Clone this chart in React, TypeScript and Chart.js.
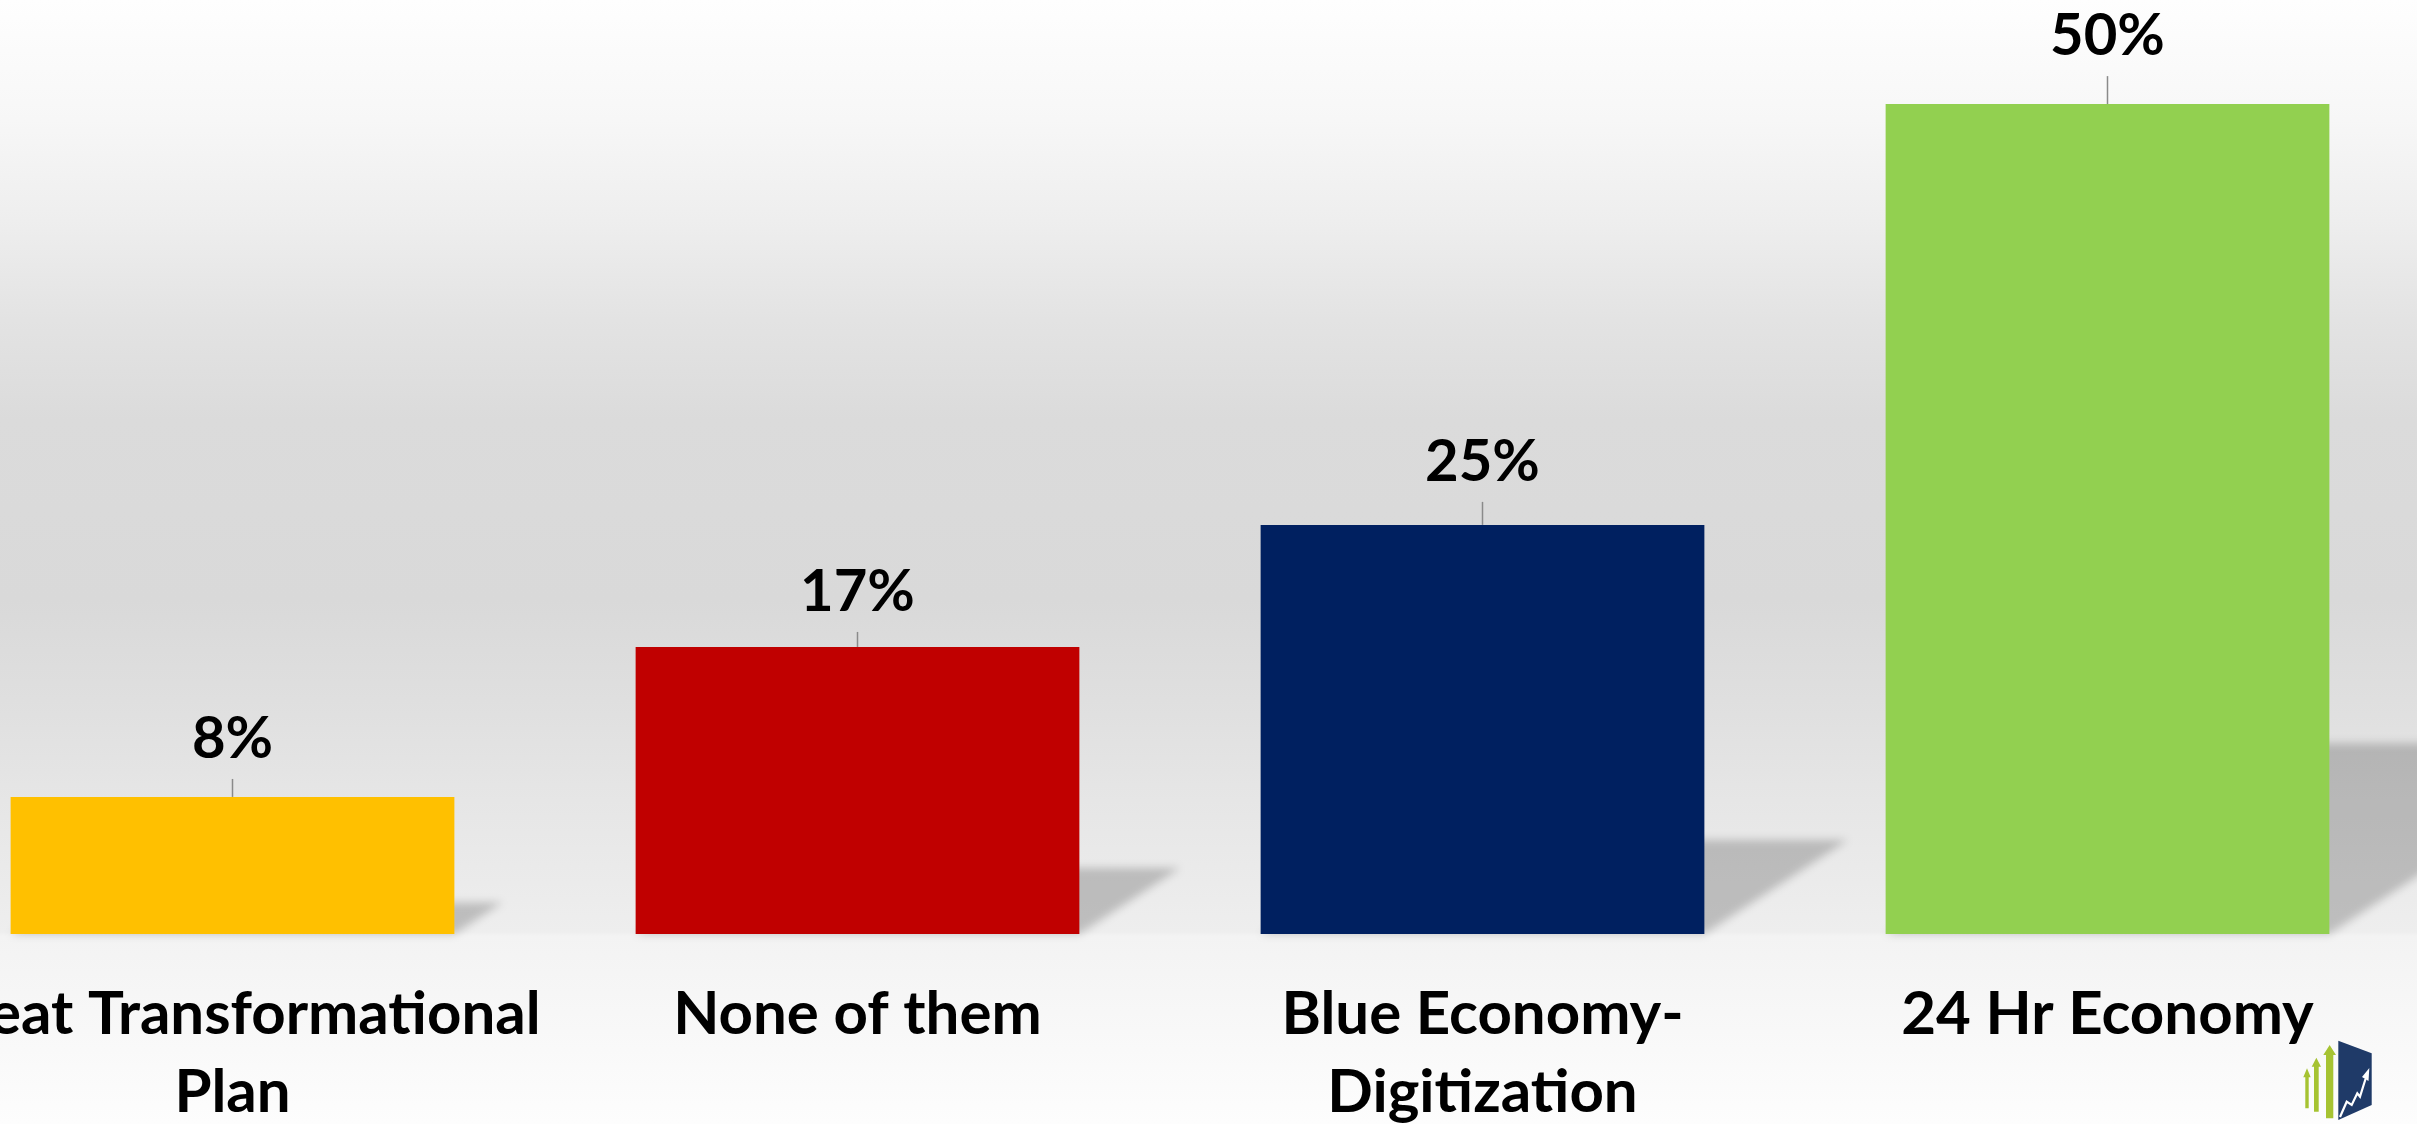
import React, { useEffect, useRef } from "react";
import { Chart, registerables } from "chart.js";

Chart.register(...registerables);

// ---- data ----
const categories: (string | string[])[] = [
  ["Great Transformational", "Plan"],
  "None of them",
  ["Blue Economy-", "Digitization"],
  "24 Hr Economy",
];
const shareValues = [8.24, 17.26, 24.6, 49.9];
const valueLabels = ["8%", "17%", "25%", "50%"];
const barColors = ["#FFC000", "#C00000", "#002060", "#92D050"];

// ---- style constants ----
const LEADER_LEN = [18, 15, 23, 28];
const LABEL_GAP = 21;
const Y_MAX = 56.16;

const shadowPlugin = {
  id: "perspectiveShadow",
  beforeDatasetsDraw(chart: any) {
    const ctx = chart.ctx;
    const meta = chart.getDatasetMeta(0);
    const base = chart.scales.y.getPixelForValue(0);
    ctx.save();
    ctx.filter = "blur(4px)";
    ctx.fillStyle = "rgba(0,0,0,0.2)";
    meta.data.forEach((bar: any) => {
      const { x, y, width } = bar.getProps(["x", "y", "width"], true);
      const xl = x - width / 2;
      const xr = x + width / 2;
      const h = base - y;
      ctx.beginPath();
      ctx.moveTo(xl, base);
      ctx.lineTo(xr, base);
      ctx.lineTo(xr + 0.35 * h, base - 0.23 * h);
      ctx.lineTo(xl + 0.35 * h, base - 0.23 * h);
      ctx.closePath();
      ctx.fill();
    });
    ctx.restore();
  },
};

const valueLabelPlugin = {
  id: "valueLabels",
  afterDatasetsDraw(chart: any) {
    const ctx = chart.ctx;
    const meta = chart.getDatasetMeta(0);
    ctx.save();
    meta.data.forEach((bar: any, i: number) => {
      const { x, y } = bar.getProps(["x", "y"], true);
      const L = LEADER_LEN[i];
      ctx.strokeStyle = "#8a8a8a";
      ctx.lineWidth = 1.5;
      ctx.beginPath();
      ctx.moveTo(x, y - L);
      ctx.lineTo(x, y);
      ctx.stroke();
      ctx.fillStyle = "#000000";
      ctx.font = "bold 58px Lato";
      ctx.textAlign = "center";
      ctx.textBaseline = "alphabetic";
      ctx.fillText(valueLabels[i], x, y - L - LABEL_GAP);
    });
    ctx.restore();
  },
};

function Logo() {
  const green = "#a6c332";
  const navy = "#1f3a68";
  const arrow = (l: number, r: number, sl: number, sr: number, tip: number, hb: number, bottom: number) =>
    `M${(l + r) / 2},${tip} L${r},${hb} L${sr},${hb} L${sr},${bottom} L${sl},${bottom} L${sl},${hb} L${l},${hb} Z`;
  return (
    <svg
      width={2417}
      height={1124}
      style={{ position: "absolute", left: 0, top: 0, pointerEvents: "none" }}
    >
      <path d={arrow(2303.3, 2310.7, 2305.3, 2308.7, 1068.3, 1077.3, 1108.3)} fill={green} />
      <path d={arrow(2311.7, 2321, 2314, 2318.7, 1057.7, 1066.7, 1111.7)} fill={green} />
      <path d={arrow(2323.3, 2336, 2326, 2333.3, 1045, 1055, 1118.3)} fill={green} />
      <path d="M2338.3,1040.7 L2371.7,1053.3 L2371.7,1105 L2338.3,1120 Z" fill={navy} />
      <polyline
        points="2340,1117 2346.7,1101.7 2351.7,1105 2357.3,1093.3 2360,1096.7 2365.5,1079"
        fill="none"
        stroke="#ffffff"
        strokeWidth={2.2}
        strokeLinejoin="miter"
      />
      <path d="M2369.3,1068 L2368.5,1081 L2362,1077 Z" fill="#ffffff" />
    </svg>
  );
}

export default function App() {
  const canvasRef = useRef<HTMLCanvasElement | null>(null);

  useEffect(() => {
    const canvas = canvasRef.current;
    if (!canvas) return;
    const chart = new Chart(canvas, {
      type: "bar",
      data: {
        labels: categories,
        datasets: [
          {
            data: shareValues,
            backgroundColor: barColors,
            borderWidth: 0,
            categoryPercentage: 1,
            barPercentage: 0.71,
          },
        ],
      },
      options: {
        responsive: false,
        animation: false,
        devicePixelRatio: 1,
        layout: { padding: 0, autoPadding: false },
        plugins: {
          legend: { display: false },
          tooltip: { enabled: false },
          title: { display: false },
        },
        scales: {
          x: {
            grid: { display: false, drawTicks: true, tickLength: 42 },
            border: { display: false },
            ticks: {
              color: "#000000",
              font: { family: "Lato", size: 60, weight: "bold", lineHeight: 1.3 },
              padding: 0,
              maxRotation: 0,
              minRotation: 0,
              autoSkip: false,
            },
          },
          y: {
            display: false,
            min: 0,
            max: Y_MAX,
          },
        },
      },
      plugins: [shadowPlugin, valueLabelPlugin],
    });
    return () => chart.destroy();
  }, []);

  return (
    <div
      style={{
        position: "fixed",
        left: 0,
        top: 0,
        width: 2417,
        height: 1124,
        overflow: "hidden",
        background:
          "linear-gradient(to bottom, #fefefe 0px, #f7f7f7 120px, #eeeeee 220px, #e3e3e3 320px, #dbdbdb 420px, #d9d9d9 600px, #dfdfdf 700px, #e6e6e6 800px, #eeeeee 932px, #f3f3f3 936px, #fdfdfd 1124px)",
      }}
    >
      <canvas
        ref={canvasRef}
        width={2500}
        height={1132}
        style={{ position: "absolute", left: -80, top: 0, width: 2500, height: 1132 }}
      />
      <Logo />
    </div>
  );
}
